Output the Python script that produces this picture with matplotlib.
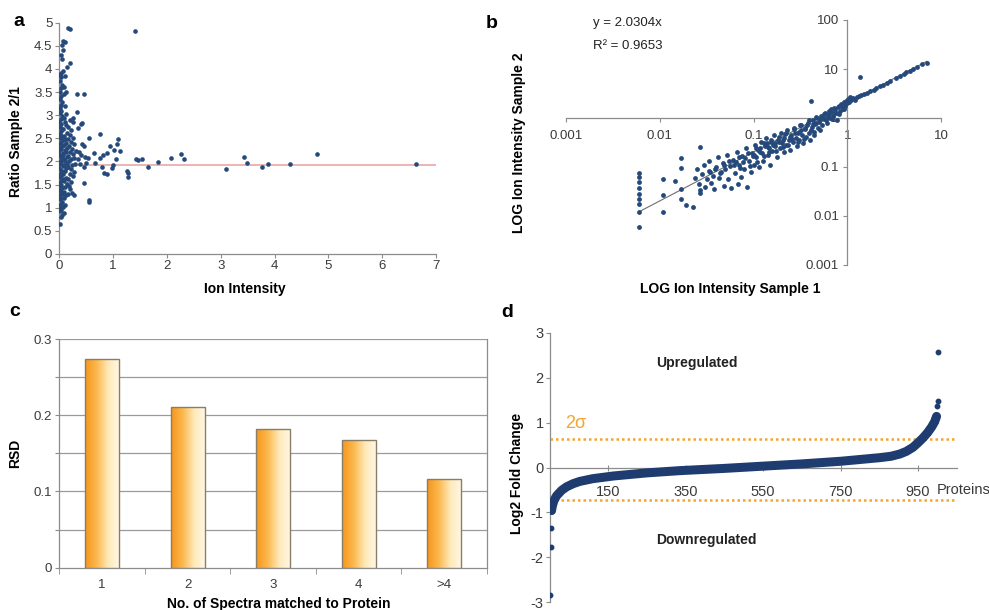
import numpy as np
import matplotlib
matplotlib.use('Agg')
import matplotlib.pyplot as plt
from matplotlib.colors import LinearSegmentedColormap

plt.rcParams['font.family'] = ['Liberation Sans', 'DejaVu Sans']
plt.rcParams['axes.unicode_minus'] = False

# ---------------- panel a: ratio vs ion intensity ----------------
ion_a = [0.02, 0.03, 0.05, 0.01, 0.04, 0.02, 0.06, 0.00, 0.03, 0.05, 0.01, 0.04, 0.02, 0.06, 0.03, 0.01,
         0.05, 0.02, 0.04, 0.00, 0.03, 0.06, 0.01, 0.04, 0.02, 0.05, 0.03, 0.00, 0.06, 0.02, 0.04, 0.01,
         0.05, 0.03, 0.02, 0.06, 0.00, 0.04, 0.02, 0.05, 0.01, 0.03, 0.06, 0.02, 0.04, 0.01, 0.03, 0.05,
         0.02, 0.04, 0.00, 0.03, 0.05, 0.02, 0.04, 0.01, 0.03, 0.05, 0.02, 0.04, 0.01, 0.03, 0.05, 0.02,
         0.04, 0.01, 0.03, 0.05, 0.04, 0.06, 0.05, 0.07, 0.11,
         0.08, 0.10, 0.09, 0.12, 0.08, 0.11, 0.14, 0.09, 0.12, 0.07, 0.10, 0.13, 0.08, 0.15, 0.11, 0.09,
         0.14, 0.07, 0.12, 0.10, 0.15, 0.08, 0.13, 0.11, 0.09, 0.14, 0.07, 0.12, 0.10, 0.08, 0.13, 0.11,
         0.09, 0.12, 0.08, 0.10, 0.07, 0.17, 0.20,
         0.16, 0.24, 0.28, 0.20, 0.18, 0.22, 0.17, 0.25, 0.19, 0.27, 0.21, 0.16, 0.24, 0.30, 0.18, 0.22,
         0.28, 0.17, 0.25, 0.20, 0.31, 0.23, 0.18, 0.27, 0.21, 0.16, 0.25, 0.19, 0.22, 0.17, 0.20, 0.26,
         0.15, 0.19, 0.26,
         0.33, 0.46, 0.33, 0.40, 0.35, 0.42, 0.75, 0.55, 0.42, 0.45, 0.36, 0.40, 0.35, 0.48, 0.38, 0.45,
         0.50, 0.54, 0.64, 0.66, 0.45, 0.56, 0.56, 0.75, 0.82, 0.88, 0.95, 1.01, 1.08, 1.10, 1.13, 1.06,
         0.79, 0.83, 0.88, 1.00, 0.98, 1.25, 1.28, 1.28, 1.40, 1.43, 1.47, 1.53, 1.65, 1.84, 2.08, 2.27,
         2.32, 3.10, 3.43, 3.48, 3.77, 3.87, 4.29, 4.78, 6.63]
ratio_a = [0.65, 0.80, 0.85, 0.92, 0.95, 1.00, 1.02, 1.05, 1.08, 1.12, 1.18, 1.22, 1.27, 1.30, 1.34, 1.38,
           1.42, 1.46, 1.50, 1.54, 1.58, 1.62, 1.66, 1.70, 1.74, 1.78, 1.82, 1.86, 1.90, 1.94, 1.98, 2.02,
           2.06, 2.10, 2.14, 2.18, 2.22, 2.26, 2.30, 2.34, 2.38, 2.42, 2.46, 2.50, 2.55, 2.60, 2.65, 2.70,
           2.75, 2.80, 2.86, 2.92, 2.98, 3.04, 3.10, 3.16, 3.22, 3.28, 3.35, 3.42, 3.50, 3.58, 3.66, 3.74,
           3.82, 3.88, 3.92, 4.22, 4.30, 4.40, 4.52, 4.60, 4.58,
           0.88, 1.05, 1.20, 1.28, 1.35, 1.45, 1.52, 1.58, 1.65, 1.72, 1.80, 1.85, 1.92, 1.95, 2.00, 2.05,
           2.10, 2.15, 2.20, 2.25, 2.30, 2.35, 2.40, 2.48, 2.55, 2.62, 2.70, 2.78, 2.85, 2.95, 3.02, 3.20,
           3.45, 3.50, 3.62, 3.85, 3.95, 4.88, 4.87,
           1.30, 1.31, 1.28, 1.40, 1.48, 1.55, 1.62, 1.68, 1.72, 1.78, 1.83, 1.88, 1.92, 1.95, 2.00, 2.05,
           2.08, 2.12, 2.16, 2.20, 2.22, 2.28, 2.33, 2.38, 2.42, 2.48, 2.50, 2.58, 2.68, 2.75, 2.90, 2.95,
           4.04, 4.13, 2.86,
           3.45, 3.45, 3.08, 2.81, 2.72, 2.83, 2.59, 2.50, 2.37, 2.33, 2.20, 2.15, 2.05, 2.10, 1.95, 1.88,
           1.96, 2.07, 2.18, 1.96, 1.54, 1.17, 1.13, 2.08, 2.13, 2.18, 2.34, 2.24, 2.38, 2.48, 2.22, 2.06,
           1.89, 1.75, 1.73, 1.92, 1.85, 1.80, 1.76, 1.67, 4.83, 2.06, 2.04, 2.06, 1.89, 1.99, 2.08, 2.16,
           2.05, 1.83, 2.10, 1.96, 1.87, 1.95, 1.94, 2.16, 1.94]
mean_ratio_a = 1.93

# ---------------- panel b: log-log intensities (log10 values) ----------------
log_s1 = [-2.225, -2.225, -2.225, -2.225, -2.225, -2.225, -2.225, -2.225, -2.225,
          -1.969, -1.969, -1.969, -1.837, -1.777, -1.777, -1.777, -1.777, -1.72, -1.649,
          -1.571, -1.571, -1.571,
          -1.62, -1.60, -1.58, -1.55, -1.53, -1.52, -1.50, -1.48, -1.47, -1.45, -1.43, -1.42, -1.40,
          -1.38, -1.37, -1.35, -1.33, -1.32, -1.30, -1.28, -1.27, -1.25, -1.24, -1.22, -1.20, -1.18,
          -1.17, -1.15, -1.13, -1.12, -1.10, -1.08, -1.07, -1.05, -1.03, -1.02, -1.00,
          -0.98, -0.97, -0.95, -0.94, -0.92, -0.91, -0.90, -0.88, -0.87, -0.85, -0.84, -0.82, -0.81,
          -0.80, -0.78, -0.77, -0.75, -0.74, -0.72, -0.71, -0.70, -0.68, -0.67, -0.65, -0.64, -0.62,
          -0.61, -0.60, -0.58, -0.57, -0.55, -0.54, -0.52, -0.51, -0.50, -0.48, -0.47, -0.45, -0.44,
          -0.42, -0.41, -0.40,
          -0.387, -0.38, -0.37, -0.35, -0.34, -0.32, -0.31, -0.30, -0.28, -0.27, -0.25, -0.24, -0.22,
          -0.21, -0.20, -0.18, -0.17, -0.15, -0.14, -0.12, -0.11, -0.10, -0.08, -0.07, -0.05, -0.04,
          -0.02, -0.01, 0.00, 0.01, 0.02, 0.03, 0.04,
          -1.19, -1.14, -1.09, -1.04, -0.99, -0.96, -0.93, -0.89, -0.86, -0.83, -0.79, -0.76, -0.73,
          -0.69, -0.66, -0.63, -0.59, -0.56, -0.53, -0.49, -0.46, -0.43, -0.39, -0.36, -0.33, -0.29,
          -0.26, -0.23, -0.19, -0.16, -0.13, -0.09, -0.06, -0.03,
          -1.46, -1.41, -1.36, -1.31, -1.26, -1.21, -1.16, -1.11, -1.06, -1.01, -0.97, -0.93, -0.89,
          -0.85, -0.81, -0.77, -0.73, -0.69, -0.65, -0.61, -0.57, -0.53, -0.49, -0.45, -0.41, -0.37,
          -0.33, -0.29, -0.25, -0.21, -0.17, -0.13, -0.09, -0.05, -0.015,
          0.06, 0.08, 0.10, 0.12, 0.136, 0.15, 0.18, 0.21, 0.24, 0.28, 0.31, 0.35, 0.38, 0.42, 0.46,
          0.52, 0.56, 0.60, 0.63, 0.67, 0.70, 0.74, 0.80, 0.85]
log_s2 = [-1.116, -1.198, -1.30, -1.435, -1.55, -1.66, -1.755, -1.92, -2.23,
          -1.245, -1.571, -1.918, -1.286, -0.823, -1.027, -1.455, -1.653, -1.776, -1.823,
          -0.599, -1.469, -1.524,
          -1.22, -1.05, -1.35, -1.15, -0.95, -1.40, -1.25, -1.08, -0.88, -1.32, -1.18, -1.45, -1.00,
          -0.80, -1.22, -1.10, -0.92, -1.38, -1.05, -0.75, -1.25, -0.98, -1.42, -0.85, -1.12, -0.70,
          -1.35, -0.95, -1.20, -0.78, -1.05, -0.62, -1.40, -0.88, -1.10, -0.72, -0.95,
          -0.55, -0.80, -0.65, -1.00, -0.48, -0.72, -0.88, -0.58, -0.40, -0.75, -0.62, -0.95, -0.50,
          -0.68, -0.35, -0.58, -0.80, -0.45, -0.62, -0.30, -0.52, -0.70, -0.40, -0.55, -0.25, -0.45,
          -0.65, -0.35, -0.50, -0.20, -0.40, -0.58, -0.28, -0.45, -0.15, -0.35, -0.52, -0.22, -0.38,
          -0.10, -0.30, -0.45,
          0.353, -0.18, -0.05, -0.28, -0.12, 0.00, -0.20, -0.08, 0.05, -0.15, -0.02, 0.10, -0.10,
          0.05, 0.15, 0.00, 0.12, 0.05, 0.20, 0.10, -0.05, 0.22, 0.15, 0.28, 0.20, 0.32,
          0.25, 0.35, 0.30, 0.38, 0.33, 0.42, 0.36,
          -0.90, -1.02, -0.82, -0.98, -0.75, -0.90, -0.62, -0.78, -0.52, -0.70, -0.55, -0.68, -0.50,
          -0.60, -0.32, -0.55, -0.42, -0.30, -0.48, -0.25, -0.42, -0.15, -0.25, -0.35, -0.10, -0.25,
          0.02, -0.05, 0.08, -0.02, 0.18, 0.08, 0.25, 0.18,
          -1.10, -1.05, -1.12, -0.95, -0.88, -0.95, -0.80, -0.90, -0.72, -0.78, -0.62, -0.70, -0.52,
          -0.60, -0.45, -0.52, -0.38, -0.45, -0.30, -0.38, -0.22, -0.30, -0.15, -0.20, -0.05, -0.12,
          0.02, -0.05, 0.08, 0.02, 0.18, 0.12, 0.25, 0.18, 0.32,
          0.40, 0.36, 0.42, 0.45, 0.843, 0.47, 0.48, 0.52, 0.55, 0.58, 0.62, 0.66, 0.68, 0.72, 0.76,
          0.82, 0.86, 0.90, 0.93, 0.96, 1.01, 1.04, 1.10, 1.13]
slope_b = 2.0304
r2_b = 0.9653

# ---------------- panel c: RSD per number of spectra ----------------
spectra_cats = ['1', '2', '3', '4', '>4']
rsd_values = [0.2735, 0.2105, 0.1824, 0.1676, 0.1164]

# ---------------- panel d: sorted log2 fold change ----------------
protein_rank = [1, 2, 3, 4, 6, 10, 17, 30, 43, 60, 77, 110, 163, 250, 335, 450, 550, 650, 752,
                852, 880, 903, 920, 937, 950, 963, 975, 985, 993, 998, 1000, 1001, 1002]
log2_fc = [-2.85, -1.77, -1.35, -0.96, -0.86, -0.74, -0.63, -0.51, -0.43, -0.36, -0.31, -0.25,
           -0.19, -0.12, -0.07, -0.02, 0.03, 0.08, 0.14, 0.22, 0.25, 0.30, 0.36, 0.45, 0.55, 0.66,
           0.78, 0.90, 1.02, 1.14, 1.38, 1.48, 2.58]
sigma_up = 0.64
sigma_down = -0.72
protein_ticks = [150, 350, 550, 750, 950]

dot_col = '#24497a'
spine_col = '#8c8c8c'
tick_txt = '#3a3a3a'
W, H = 989, 610

fig = plt.figure(figsize=(W / 100, H / 100), dpi=100)


def px_axes(x0, y0, x1, y1):
    return fig.add_axes([x0 / W, 1 - y1 / H, (x1 - x0) / W, (y1 - y0) / H])


def px_text(x, y, s, **kw):
    fig.text(x / W, 1 - y / H, s, **kw)


def style(ax, size):
    for s in ax.spines.values():
        s.set_color(spine_col)
        s.set_linewidth(0.9)
    ax.tick_params(colors=spine_col, labelcolor=tick_txt, labelsize=size, length=3, width=0.8)


# panel a
ax = px_axes(59.3, 22.7, 436, 254)
ax.scatter(ion_a, ratio_a, s=11, color=dot_col, linewidths=0, zorder=3)
ax.plot([0, 7], [mean_ratio_a, mean_ratio_a], color='#e8a0a0', lw=1.1, zorder=2)
ax.set_xlim(0, 7)
ax.set_ylim(0, 5)
ax.set_xticks(range(8))
ax.set_yticks(np.arange(0, 5.01, 0.5))
ax.set_yticklabels(['0', '0.5', '1', '1.5', '2', '2.5', '3', '3.5', '4', '4.5', '5'])
ax.spines[['top', 'right']].set_visible(False)
style(ax, 9.5)
ax.tick_params(axis='x', pad=1.5)
ax.tick_params(axis='y', pad=2)
px_text(245, 289, 'Ion Intensity', ha='center', va='center', fontsize=10, fontweight='bold')
px_text(16, 142, 'Ratio Sample 2/1', ha='center', va='center', rotation=90, fontsize=10,
        fontweight='bold')

# panel b
ax = px_axes(566, 20, 941, 265)
xs = 10 ** np.array(log_s1)
ys = 10 ** np.array(log_s2)
ax.set_xscale('log')
ax.set_yscale('log')
ax.scatter(xs, ys, s=12, color=dot_col, linewidths=0, zorder=3)
fit_x = np.array([xs.min(), xs.max()])
ax.plot(fit_x, slope_b * fit_x, color='#6e6e6e', lw=0.8, zorder=2)
ax.set_xlim(0.001, 10)
ax.set_ylim(0.001, 100)
ax.spines['left'].set_position(('data', 1))
ax.spines['bottom'].set_position(('data', 1))
ax.spines[['top', 'right']].set_visible(False)
ax.set_xticks([0.001, 0.01, 0.1, 1, 10])
ax.set_xticklabels(['0.001', '0.01', '0.1', '1', '10'])
ax.set_yticks([0.001, 0.01, 0.1, 1, 10, 100])
ax.set_yticklabels(['0.001', '0.01', '0.1', '1', '10', '100'])
ax.minorticks_off()
style(ax, 9.5)
ax.tick_params(axis='x', pad=6)
ax.tick_params(axis='y', pad=3)
px_text(593, 23, 'y = %.4fx' % slope_b, ha='left', va='center', fontsize=9.5, color='#222222')
px_text(593, 46, 'R\u00b2 = %.4f' % r2_b, ha='left', va='center', fontsize=9.5, color='#222222')
px_text(730, 289, 'LOG Ion Intensity Sample 1', ha='center', va='center', fontsize=10,
        fontweight='bold')
px_text(519, 143, 'LOG Ion Intensity Sample 2', ha='center', va='center', rotation=90,
        fontsize=10, fontweight='bold')

# panel c
ax = px_axes(59.3, 339, 487, 567.7)
pos = np.arange(len(spectra_cats))
bars = ax.bar(pos, rsd_values, width=0.4, facecolor='none', edgecolor='#8a7d68', lw=1.0,
              zorder=4)
grad_cmap = LinearSegmentedColormap.from_list('orng', ['#f7961c', '#fbb84e', '#ffe9b8',
                                                        '#fff8e8'])
grad = np.linspace(0, 1, 64).reshape(1, -1)
for b in bars:
    x0, w, h = b.get_x(), b.get_width(), b.get_height()
    im = ax.imshow(grad, extent=(x0, x0 + w, 0, h), cmap=grad_cmap, aspect='auto', zorder=3)
    im.set_clip_path(b)
ax.set_xlim(-0.5, len(spectra_cats) - 0.5)
ax.set_ylim(0, 0.3)
ax.set_yticks(np.arange(0, 0.301, 0.05), minor=False)
ax.set_yticklabels(['0', '', '0.1', '', '0.2', '', '0.3'])
for g in np.arange(0.05, 0.301, 0.05):
    ax.axhline(g, color='#9a9a9a', lw=0.9, zorder=1)
ax.set_xticks(pos)
ax.set_xticklabels(spectra_cats)
ax.set_xticks(np.arange(-0.5, len(spectra_cats), 1), minor=True)
ax.spines['top'].set_visible(False)
style(ax, 9.5)
ax.tick_params(axis='x', which='major', length=0, pad=8)
ax.tick_params(axis='x', which='minor', length=4, color=spine_col)
ax.tick_params(axis='y', pad=2)
px_text(15, 453, 'RSD', ha='center', va='center', rotation=90, fontsize=10, fontweight='bold')
px_text(279, 604, 'No. of Spectra matched to Protein', ha='center', va='center', fontsize=10,
        fontweight='bold')

# panel d
ax = px_axes(550, 333, 956.7, 602)
navy = '#1f3c70'
ax.plot(protein_rank[3:-3], log2_fc[3:-3], color=navy, lw=6.5, solid_capstyle='round',
        solid_joinstyle='round', zorder=3)
ax.plot(protein_rank, log2_fc, 'o', ms=3.2, color=navy, zorder=3)
ax.axhline(sigma_up, color='#f2a531', lw=1.8, ls=(0, (1, 1.2)), zorder=2, clip_on=False)
ax.axhline(sigma_down, color='#f2a531', lw=1.8, ls=(0, (1, 1.2)), zorder=2, clip_on=False)
ax.set_xlim(0, 1050)
ax.set_ylim(-3, 3)
ax.spines['bottom'].set_position(('data', 0))
ax.spines[['top', 'right']].set_visible(False)
ax.set_xticks(protein_ticks)
ax.set_yticks(range(-3, 4))
style(ax, 10.5)
ax.tick_params(axis='x', direction='inout', length=5, pad=10)
ax.tick_params(axis='y', pad=1.5)
ax.text(999, -0.5, 'Proteins', ha='left', va='center', fontsize=10.5, color=tick_txt,
        clip_on=False)
ax.text(40, 0.98, '2\u03c3', ha='left', va='center', fontsize=13, color='#f2a531')
ax.text(273, 2.33, 'Upregulated', ha='left', va='center', fontsize=10, fontweight='bold',
        color='#222222')
ax.text(273, -1.62, 'Downregulated', ha='left', va='center', fontsize=10, fontweight='bold',
        color='#222222')
px_text(517, 473, 'Log2 Fold Change', ha='center', va='center', rotation=90, fontsize=10,
        fontweight='bold')

# panel letters
for lab, x, y in [('a', 19, 22), ('b', 492, 24), ('c', 15, 312), ('d', 507, 313)]:
    px_text(x, y, lab, ha='center', va='center', fontsize=14, fontweight='bold')

fig.savefig('out.png', dpi=100)
